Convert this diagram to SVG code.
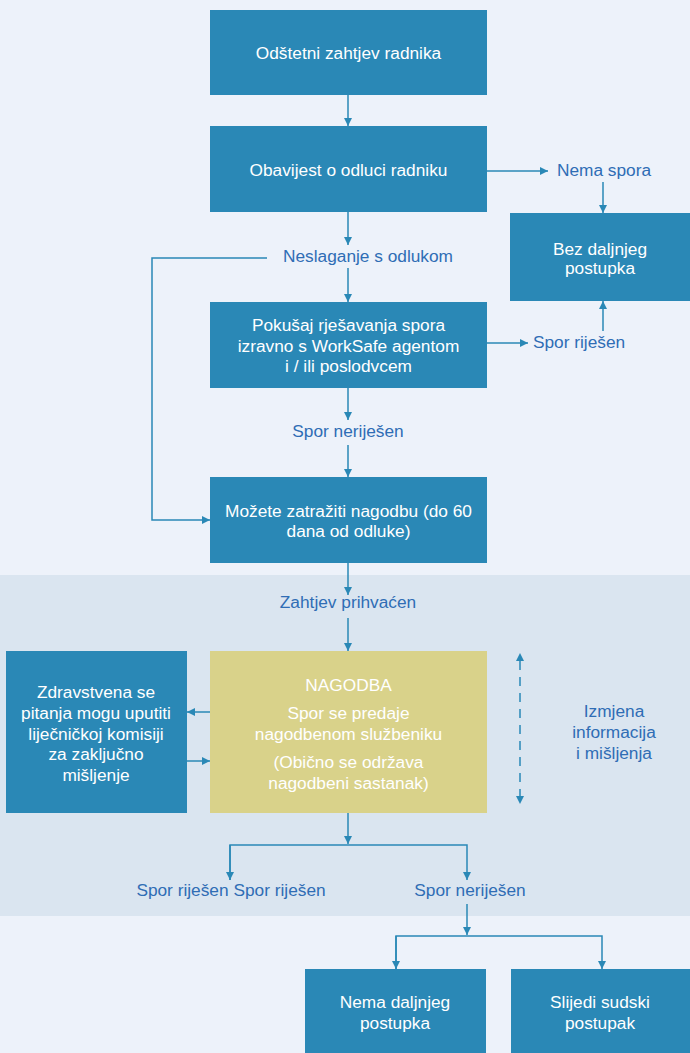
<svg xmlns="http://www.w3.org/2000/svg" width="690" height="1053" viewBox="0 0 690 1053">
<style>
.box{fill:#2A88B6}
.yel{fill:#D9D28A}
.bt{font-family:"Liberation Sans",Arial,sans-serif;font-size:17.3px;fill:#FFFFFF;text-anchor:middle}
.lt{font-family:"Liberation Sans",Arial,sans-serif;font-size:17.3px;fill:#2F6DB5;text-anchor:middle}
.ln{fill:none;stroke:#2A88B6;stroke-width:1.5}
.dash{stroke-dasharray:9,7}
</style>
<defs>
<marker id="ah" viewBox="0 0 10 10" refX="10" refY="5" markerWidth="8" markerHeight="8" markerUnits="userSpaceOnUse" orient="auto">
<path d="M0,0 L10,5 L0,10 Z" fill="#2A88B6"/>
</marker>
<marker id="ahs" viewBox="0 0 10 10" refX="0" refY="5" markerWidth="8" markerHeight="8" markerUnits="userSpaceOnUse" orient="auto-start-reverse">
<path d="M0,0 L10,5 L0,10 Z" fill="#2A88B6"/>
</marker>
</defs>
<rect x="0" y="0" width="690" height="1053" fill="#EDF2FA"/>
<rect x="0" y="575" width="690" height="341" fill="#DAE5F0"/>

<g id="connectors">
<path class="ln" d="M348,95 V126" marker-end="url(#ah)"/>
<path class="ln" d="M487,171 H548" marker-end="url(#ah)"/>
<path class="ln" d="M603,182 V213" marker-end="url(#ah)"/>
<path class="ln" d="M348,212 V245" marker-end="url(#ah)"/>
<path class="ln" d="M267,258 H152 V520 H210" marker-end="url(#ah)"/>
<path class="ln" d="M348,268 V302" marker-end="url(#ah)"/>
<path class="ln" d="M487,343 H528" marker-end="url(#ah)"/>
<path class="ln" d="M603,331 V301" marker-end="url(#ah)"/>
<path class="ln" d="M348,388 V420" marker-end="url(#ah)"/>
<path class="ln" d="M348,445 V477" marker-end="url(#ah)"/>
<path class="ln" d="M348,563 V595" marker-end="url(#ah)"/>
<path class="ln" d="M348,618 V651" marker-end="url(#ah)"/>
<path class="ln" d="M210,712 H187" marker-end="url(#ah)"/>
<path class="ln" d="M187,761 H210" marker-end="url(#ah)"/>
<path class="ln dash" d="M520,661 V804" marker-start="url(#ahs)" marker-end="url(#ah)"/>
<path class="ln" d="M348,813 V844" marker-end="url(#ah)"/>
<path class="ln" d="M230,880 V845 H467 V880" marker-end="url(#ah)"/>
<path class="ln" d="M230,845 V880" marker-end="url(#ah)"/>
<path class="ln" d="M467,904 V935" marker-end="url(#ah)"/>
<path class="ln" d="M396,969 V936 H602 V969" marker-end="url(#ah)"/>
<path class="ln" d="M396,936 V969" marker-end="url(#ah)"/>
</g>

<g id="n1"><rect class="box" x="210" y="10" width="277" height="85"/><text class="bt" x="348.5" y="59">Odštetni zahtjev radnika</text></g>
<g id="n2"><rect class="box" x="210" y="126" width="277" height="86"/><text class="bt" x="348.5" y="176">Obavijest o odluci radniku</text></g>
<g id="l-nema"><text class="lt" x="604" y="176">Nema spora</text></g>
<g id="n-bez"><rect class="box" x="510" y="213" width="180" height="88"/><text class="bt" x="600" y="255">Bez daljnjeg</text><text class="bt" x="600" y="274">postupka</text></g>
<g id="l-nesl"><text class="lt" x="368" y="262">Neslaganje s odlukom</text></g>
<g id="n3"><rect class="box" x="210" y="302" width="277" height="86"/><text class="bt" x="348.5" y="331">Pokušaj rješavanja spora</text><text class="bt" x="348.5" y="352">izravno s WorkSafe agentom</text><text class="bt" x="348.5" y="372">i / ili poslodvcem</text></g>
<g id="l-rij1"><text class="lt" x="579" y="348">Spor riješen</text></g>
<g id="l-nerij1"><text class="lt" x="348" y="437">Spor neriješen</text></g>
<g id="n4"><rect class="box" x="210" y="477" width="277" height="86"/><text class="bt" x="348.5" y="517">Možete zatražiti nagodbu (do 60</text><text class="bt" x="348.5" y="537">dana od odluke)</text></g>
<g id="l-zaht"><text class="lt" x="348" y="608">Zahtjev prihvaćen</text></g>
<g id="n-nag"><rect class="yel" x="210" y="651" width="277" height="162"/><text class="bt" x="348.5" y="691">NAGODBA</text><text class="bt" x="348.5" y="719">Spor se predaje</text><text class="bt" x="348.5" y="740">nagodbenom službeniku</text><text class="bt" x="348.5" y="768">(Obično se održava</text><text class="bt" x="348.5" y="789">nagodbeni sastanak)</text></g>
<g id="n-zdr"><rect class="box" x="6" y="651" width="181" height="162"/><text class="bt" x="96" y="698">Zdravstvena se</text><text class="bt" x="96" y="719">pitanja mogu uputiti</text><text class="bt" x="96" y="739.5">liječničkoj komisiji</text><text class="bt" x="96" y="760">za zaključno</text><text class="bt" x="96" y="781">mišljenje</text></g>
<g id="l-izm"><text class="lt" x="614" y="717">Izmjena</text><text class="lt" x="614" y="738">informacija</text><text class="lt" x="614" y="759">i mišljenja</text></g>
<g id="l-rij2"><text class="lt" x="231" y="896">Spor riješen Spor riješen</text></g>
<g id="l-nerij2"><text class="lt" x="470" y="896">Spor neriješen</text></g>
<g id="n-nema"><rect class="box" x="305" y="969" width="181" height="84"/><text class="bt" x="395" y="1008">Nema daljnjeg</text><text class="bt" x="395" y="1028.5">postupka</text></g>
<g id="n-sud"><rect class="box" x="511" y="969" width="179" height="84"/><text class="bt" x="600" y="1008">Slijedi sudski</text><text class="bt" x="600" y="1028.5">postupak</text></g>
</svg>
